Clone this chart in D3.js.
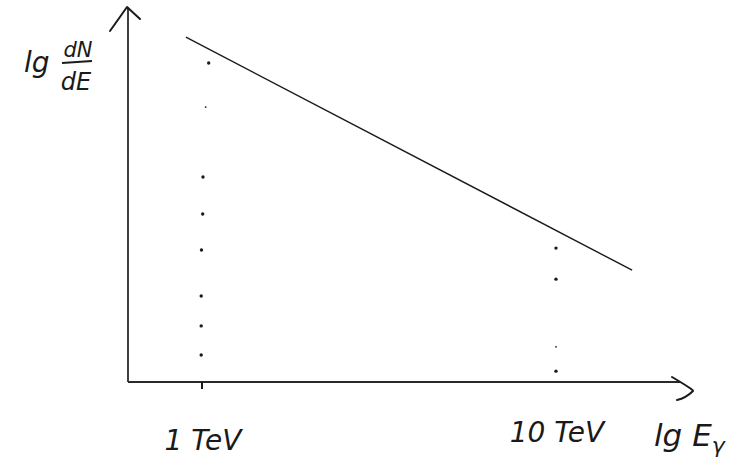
<!DOCTYPE html>
<html><head><meta charset="utf-8">
<script src="https://cdn.jsdelivr.net/npm/d3@7"></script>
<style>html,body{margin:0;padding:0;background:#fff;}svg{display:block;}</style>
</head><body>
<svg id="c" width="748" height="474"></svg>
<script>
// ---- data ----
const tickValues = [1, 10];                 // energies in TeV
const tickLabels = ["1 TeV", "10 TeV"];
const lineEnergies = [0.895, 16.3];         // power-law line endpoints (TeV)
const lineValues = [9.22, 2.99];            // lg dN/dE (arbitrary units)
const dots1TeV = [8.53, 7.35, 5.48, 4.49, 3.53, 2.30, 1.50, 0.72];
const dots10TeV = [3.58, 2.75, 0.94, 0.29];
const dotOffsets1 = [1.9, 0.9, 0, -0.1, -0.5, -0.6, -0.6, -0.6];
const yLabel = "lg";
const xLabel = "lg E";

const svg = d3.select("#c");
const x = d3.scaleLog().domain([0.614, 22.26]).range([128, 680]);
const y = d3.scaleLinear().domain([0, 10]).range([382, 8]);
const ink = "#1a1a1a";

// axes
const x0 = x.range()[0], x1 = x.range()[1], y0 = y.range()[0], y1 = y.range()[1];
svg.append("line").attr("x1", x0).attr("y1", y0).attr("x2", x0).attr("y2", y1 - 1)
  .attr("stroke", "#2a2a2a").attr("stroke-width", 1.8);
svg.append("line").attr("x1", x0).attr("y1", y0).attr("x2", x1).attr("y2", y0)
  .attr("stroke", "#2a2a2a").attr("stroke-width", 1.8);
// hand-drawn arrowheads
svg.append("path").attr("d", `M${x0 - 18},${y1 + 23} L${x0 - 1},${y1 - 1} L${x0 + 12},${y1 + 11}`)
  .attr("fill", "none").attr("stroke", ink).attr("stroke-width", 2).attr("stroke-linecap", "round").attr("stroke-linejoin", "round");
svg.append("path").attr("d", `M${x1 - 8},${y0 - 5} Q${x1 + 14},${y0 + 8} ${x1 + 13},${y0 + 9} Q${x1 + 6},${y0 + 16} ${x1 - 3},${y0 + 18}`)
  .attr("fill", "none").attr("stroke", ink).attr("stroke-width", 2).attr("stroke-linecap", "round");

// tick at 1 TeV
svg.append("line").attr("x1", x(tickValues[0]) - 1).attr("x2", x(tickValues[0]) - 1)
  .attr("y1", y0).attr("y2", y0 + 7).attr("stroke", ink).attr("stroke-width", 2);

// spectrum line
const pts = lineEnergies.map((e, i) => [x(e), y(lineValues[i])]);
svg.append("path").attr("d", d3.line()(pts)).attr("stroke", ink).attr("stroke-width", 1.4).attr("fill", "none");

// dotted verticals
svg.selectAll(".d1").data(dots1TeV).join("circle")
  .attr("cx", (d, i) => x(tickValues[0]) + dotOffsets1[i] * 3)
  .attr("cy", d => y(d)).attr("r", (d, i) => i === 1 ? 0.9 : 1.7).attr("fill", ink);
svg.selectAll(".d2").data(dots10TeV).join("circle")
  .attr("cx", x(tickValues[1]) - 1)
  .attr("cy", d => y(d)).attr("r", (d, i) => i === 2 ? 0.9 : 1.7).attr("fill", ink);

// labels
const font = "'DejaVu Sans', sans-serif";
svg.selectAll(".tl").data(tickValues).join("text")
  .attr("x", d => x(d)).attr("y", (d, i) => i === 0 ? 450 : 442)
  .attr("text-anchor", "middle").attr("font-family", font).attr("font-style", "italic")
  .attr("font-size", 28).attr("fill", ink)
  .text((d, i) => tickLabels[i]);

const xl = svg.append("text").attr("x", 654).attr("y", 446).attr("font-family", font)
  .attr("font-style", "italic").attr("font-size", 31).attr("fill", ink);
xl.append("tspan").text(xLabel);
xl.append("tspan").attr("font-size", 22).attr("dy", 7).text("γ");

svg.append("text").attr("x", 24).attr("y", 72).attr("font-family", font).attr("font-style", "italic")
  .attr("font-size", 28).attr("fill", ink).text(yLabel);
svg.append("text").attr("x", 78).attr("y", 57).attr("text-anchor", "middle").attr("font-family", font)
  .attr("font-style", "italic").attr("font-size", 21).attr("fill", ink).text("dN");
svg.append("line").attr("x1", 62).attr("x2", 92).attr("y1", 63).attr("y2", 61).attr("stroke", ink).attr("stroke-width", 2);
svg.append("text").attr("x", 76).attr("y", 90).attr("text-anchor", "middle").attr("font-family", font)
  .attr("font-style", "italic").attr("font-size", 24).attr("fill", ink).text("dE");
</script>
</body></html>
